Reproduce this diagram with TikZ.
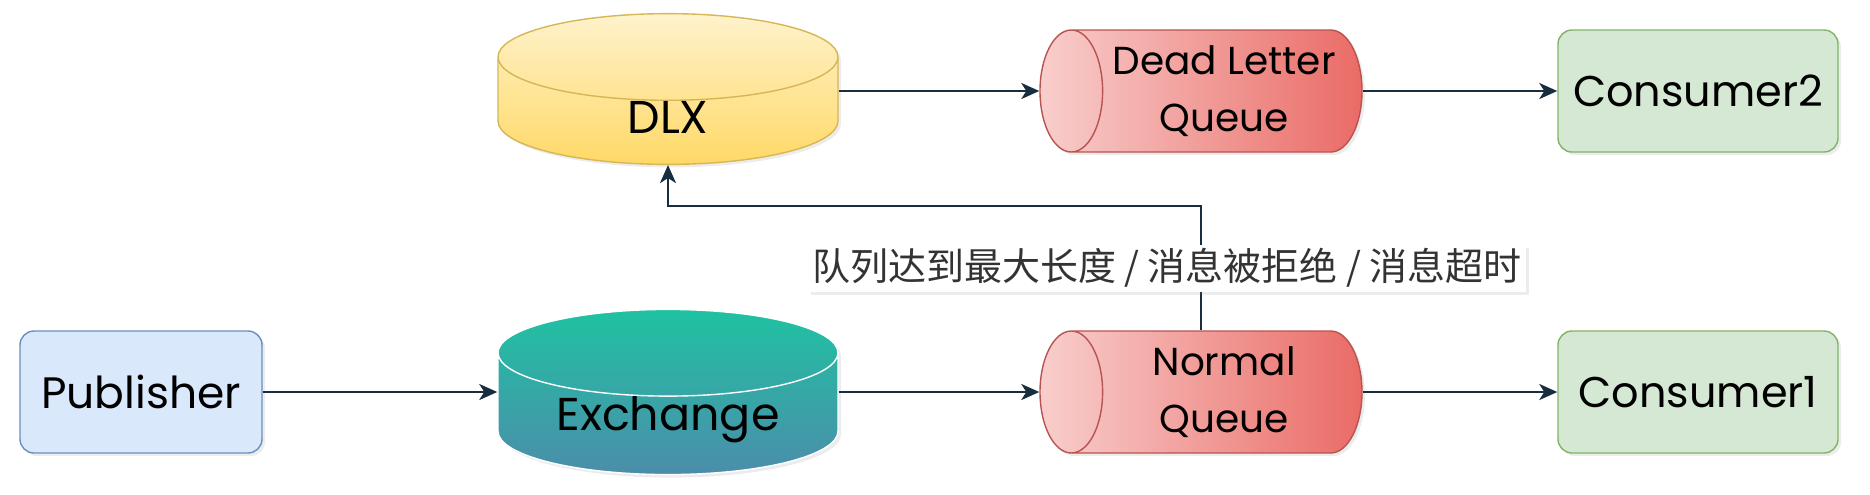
\documentclass[tikz,border=0pt]{standalone}
\usepackage{fontspec}
\setmainfont{Poppins}
\newfontfamily\cjk{Noto Sans CJK SC}
\usepackage{tikz}
\usetikzlibrary{shapes.geometric, arrows.meta, positioning, shadows}

\definecolor{linec}{HTML}{182E3E}
\definecolor{pubfill}{HTML}{DAE8FC}
\definecolor{publine}{HTML}{6C8EBF}
\definecolor{conFill}{HTML}{D5E8D4}
\definecolor{conLine}{HTML}{82B366}
\definecolor{dlxTop}{HTML}{FFF2CC}
\definecolor{dlxBot}{HTML}{FFD966}
\definecolor{dlxLine}{HTML}{D6B656}
\definecolor{exTop}{HTML}{1FC2A2}
\definecolor{exBot}{HTML}{4C8DAA}
\definecolor{qLeft}{HTML}{F8CECC}
\definecolor{qRight}{HTML}{EA6B66}
\definecolor{qLine}{HTML}{B85450}

% same text width for both upright cylinders, so their ends match
\newcommand{\cyltext}[1]{\makebox[80pt]{#1}}

\begin{document}
\begin{tikzpicture}[x=0.5pt, y=-0.5pt,
            box/.style={draw, rectangle, rounded corners=7pt, line width=0.7pt, minimum width=140pt, minimum height=61pt, drop shadow={opacity=0.15, shadow xshift=1.5pt, shadow yshift=-1.5pt}},
            vcyl/.style={cylinder, shape border rotate=90, aspect=0.5, draw, line width=0.7pt, inner ysep=0pt, minimum width=170pt, minimum height=71pt, font=\fontsize{23}{27}\selectfont, drop shadow={opacity=0.15, shadow xshift=1.5pt, shadow yshift=-1.5pt}},
            hcyl/.style={cylinder, shape border rotate=180, aspect=0.6, draw=qLine, line width=0.7pt, left color=qLeft, right color=qRight, inner xsep=1pt, minimum width=61pt, minimum height=161pt, align=center, font=\fontsize{19.5}{28.5}\selectfont, drop shadow={opacity=0.15, shadow xshift=1.5pt, shadow yshift=-1.5pt}},
            link/.style={-{Stealth[length=9pt, width=8pt, inset=2.5pt]}, line width=1.2pt, draw=linec}]

            \useasboundingbox (0,0) rectangle (1870,494);

            \node[box, fill=pubfill, draw=publine, minimum width=121pt, font=\fontsize{22}{26}\selectfont] (pub) at (141,392) {Publisher};
            \node[vcyl, anchor=shape center, top color=exTop, bottom color=exBot, draw=white] (exch) at (668,392) {\cyltext{Exchange}};
            \node[vcyl, anchor=shape center, top color=dlxTop, bottom color=dlxBot, draw=dlxLine] (dlx) at (668,89) {\cyltext{DLX}};
            \node[hcyl, anchor=shape center] (nq) at (1201,392) {Normal\\Queue};
            \node[hcyl, anchor=shape center] (dlq) at (1201,91) {Dead Letter\\Queue};
            \node[box, fill=conFill, draw=conLine, font=\fontsize{21.5}{26}\selectfont] (con1) at (1698,392) {Consumer1};
            \node[box, fill=conFill, draw=conLine, font=\fontsize{21.5}{26}\selectfont] (con2) at (1698,91) {Consumer2};

            % elbow from the normal queue up to the DLX
            \coordinate (nqtop) at (nq.shape center |- nq.north);
            \coordinate (turn) at (nq.shape center |- 0,206);

            \draw[link] (pub.east) -- (pub.east -| exch.west);
            \draw[link] (nq.west -| exch.east) -- (nq.west);
            \draw[link] (nq.east) -- (con1.west);
            \draw[link] (dlq.west -| dlx.east) -- (dlq.west);
            \draw[link] (dlq.east) -- (con2.west);
            \draw[link] (nqtop) -- (turn) node[midway, fill=white, inner sep=2pt, xshift=-17pt, font=\cjk\fontsize{19}{22}\selectfont, text=black!80, drop shadow={opacity=0.15, shadow xshift=1.5pt, shadow yshift=-1.5pt}] (why) {队列达到最大长度 / 消息被拒绝 / 消息超时} -| (dlx.south);
        \end{tikzpicture}
\end{document}
